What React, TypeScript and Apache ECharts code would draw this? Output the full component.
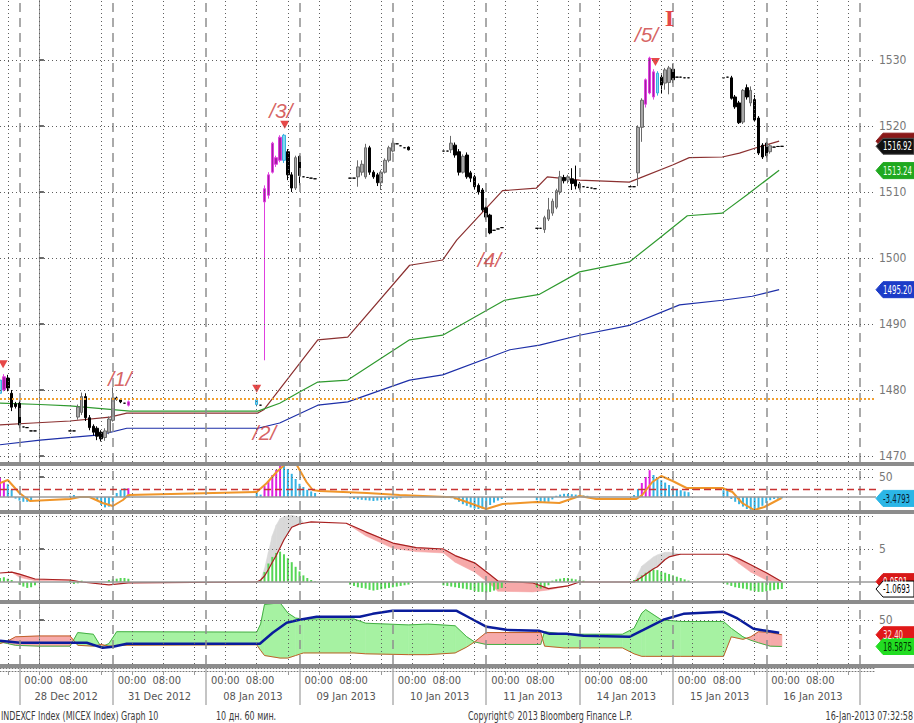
import React, { useEffect, useRef } from 'react';
import * as echarts from 'echarts';

const FONT = "'DejaVu Sans Condensed', 'Liberation Sans Narrow', 'Arial Narrow', sans-serif";

// x = trading hours, 0 = 00:00 of 28 Dec 2012, one 24h block per trading day
const X_MIN = -10;
const X_MAX = 215.2;

const dayNames = ['28 Dec 2012', '31 Dec 2012', '08 Jan 2013', '09 Jan 2013', '10 Jan 2013', '11 Jan 2013', '14 Jan 2013', '15 Jan 2013', '16 Jan 2013'];
const priceTicks = [1470, 1480, 1490, 1500, 1510, 1520, 1530];
const dayBoundaryVals = [-5, 19, 43, 67, 91, 115, 139, 163, 187, 211];
const eightHourVals = [-8, 0, 8, 16, 24, 32, 40, 48, 56, 64, 72, 80, 88, 96, 104, 112, 120, 128, 136, 144, 152, 160, 168, 176, 184, 192, 200, 208];
const timeLabelVals = [4.4, 28.4, 52.4, 76.4, 100.4, 124.4, 148.4, 172.4, 196.4];
const dateLabelVals = [7, 31, 55, 79, 103, 127, 151, 175, 199];

// [hour, open, close, low, high, kind]
const candles27Dec = [
  [-10, 1479.5, 1481.5, 1479.2, 1482.0, 'c'],
  [-9, 1480.0, 1482.0, 1479.8, 1482.4, 'm'],
  [-8, 1481.8, 1480.3, 1479.8, 1482.3, 'd'],
  [-7, 1479.5, 1477.4, 1476.8, 1480.0, 'd'],
  [-6, 1477.9, 1477.5, 1477.2, 1478.2, 'd'],
  [-5, 1478.0, 1474.7, 1474.2, 1478.4, 'd'],
  [-4, 1474.4, 1474.4, 1474.4, 1474.4, 'd'],
  [-3, 1474.3, 1474.3, 1474.3, 1474.3, 'd'],
  [-2, 1473.8, 1473.8, 1473.8, 1473.8, 'd'],
  [-1, 1473.8, 1473.8, 1473.8, 1473.8, 'd'],
];
const candles28Dec = [
  [8, 1473.8, 1473.8, 1473.8, 1473.8, 'd'],
  [9, 1473.8, 1473.8, 1473.8, 1473.8, 'd'],
  [10, 1475.9, 1477.4, 1475.5, 1477.8, 'u'],
  [11, 1476.6, 1479.0, 1476.2, 1479.6, 'u'],
  [12, 1479.0, 1475.8, 1475.3, 1479.5, 'd'],
  [13, 1475.8, 1474.3, 1473.9, 1476.2, 'd'],
  [14, 1474.5, 1473.6, 1473.1, 1474.8, 'd'],
  [15, 1474.2, 1473.0, 1472.4, 1474.5, 'd'],
  [16, 1473.6, 1472.6, 1472.2, 1473.9, 'd'],
  [17, 1472.8, 1473.8, 1472.3, 1474.2, 'u'],
  [18, 1473.6, 1475.6, 1473.3, 1476.0, 'u'],
  [19, 1475.4, 1478.8, 1475.2, 1480.4, 'u'],
  [20, 1478.8, 1478.6, 1478.4, 1479.0, 'd'],
  [21, 1478.5, 1478.2, 1478.0, 1478.6, 'd'],
  [22, 1478.0, 1478.0, 1478.0, 1478.0, 'd'],
  [23, 1477.7, 1478.2, 1477.5, 1478.4, 'm'],
];
const candles08Jan = [
  [56, 1477.8, 1478.5, 1477.5, 1478.8, 'c'],
  [57, 1477.7, 1477.7, 1477.7, 1477.7, 'd'],
  [58, 1508.5, 1510.5, 1484.5, 1511.0, 'm'],
  [59, 1509.5, 1512.6, 1509.0, 1513.0, 'm'],
  [60, 1513.0, 1517.4, 1512.8, 1517.6, 'm'],
  [61, 1514.2, 1515.2, 1513.8, 1515.5, 'm'],
  [62, 1514.8, 1518.3, 1514.5, 1518.6, 'm'],
  [63, 1514.8, 1518.6, 1514.4, 1518.8, 'c'],
  [64, 1516.1, 1512.6, 1511.8, 1516.5, 'd'],
  [65, 1512.6, 1510.6, 1510.0, 1513.0, 'd'],
  [66, 1510.6, 1515.2, 1510.3, 1515.5, 'u'],
  [67, 1515.4, 1512.5, 1511.0, 1515.6, 'd'],
  [68, 1512.3, 1512.3, 1512.3, 1512.3, 'd'],
  [69, 1512.2, 1512.2, 1512.2, 1512.2, 'd'],
  [70, 1512.1, 1512.1, 1512.1, 1512.1, 'd'],
  [71, 1512.0, 1512.0, 1512.0, 1512.0, 'd'],
];
const candles09Jan = [
  [80, 1512.1, 1512.1, 1512.1, 1512.1, 'd'],
  [81, 1512.1, 1512.1, 1512.1, 1512.1, 'd'],
  [82, 1512.3, 1513.8, 1510.8, 1514.8, 'u'],
  [83, 1513.0, 1514.2, 1512.5, 1514.8, 'u'],
  [84, 1512.3, 1516.7, 1512.0, 1517.3, 'u'],
  [85, 1516.7, 1513.0, 1512.6, 1517.0, 'd'],
  [86, 1513.0, 1512.3, 1512.0, 1513.3, 'd'],
  [87, 1512.6, 1511.4, 1510.9, 1512.9, 'd'],
  [88, 1511.4, 1513.0, 1510.3, 1513.3, 'u'],
  [89, 1513.0, 1514.8, 1512.8, 1515.1, 'u'],
  [90, 1514.8, 1516.7, 1514.5, 1517.0, 'u'],
  [91, 1516.2, 1517.4, 1516.0, 1517.8, 'u'],
  [92, 1517.3, 1517.3, 1517.3, 1517.3, 'd'],
  [93, 1517.0, 1517.0, 1517.0, 1517.0, 'd'],
  [94, 1516.7, 1516.7, 1516.7, 1516.7, 'd'],
  [95, 1516.8, 1516.4, 1516.3, 1516.9, 'd'],
];
const candles10Jan = [
  [104, 1516.2, 1516.2, 1516.2, 1516.2, 'd'],
  [105, 1516.2, 1516.2, 1516.2, 1516.2, 'd'],
  [106, 1516.4, 1517.4, 1515.9, 1518.5, 'u'],
  [107, 1517.1, 1515.6, 1515.2, 1517.5, 'd'],
  [108, 1516.1, 1513.0, 1512.5, 1516.5, 'd'],
  [109, 1513.0, 1515.4, 1512.8, 1515.7, 'u'],
  [110, 1515.6, 1512.3, 1512.0, 1516.0, 'd'],
  [111, 1512.9, 1512.1, 1511.5, 1513.2, 'd'],
  [112, 1512.3, 1510.8, 1510.4, 1512.6, 'd'],
  [113, 1511.0, 1510.0, 1509.6, 1511.3, 'd'],
  [114, 1510.3, 1507.3, 1507.0, 1510.6, 'd'],
  [115, 1507.6, 1506.2, 1505.8, 1507.9, 'd'],
  [116, 1506.5, 1503.8, 1503.6, 1506.7, 'd'],
  [117, 1504.2, 1504.2, 1504.2, 1504.2, 'd'],
  [118, 1504.4, 1504.4, 1504.4, 1504.4, 'd'],
  [119, 1504.6, 1504.6, 1504.6, 1504.6, 'd'],
];
const candles11Jan = [
  [128, 1504.5, 1504.5, 1504.5, 1504.5, 'd'],
  [129, 1504.5, 1504.5, 1504.5, 1504.5, 'd'],
  [130, 1504.3, 1506.1, 1503.8, 1506.4, 'u'],
  [131, 1505.9, 1507.3, 1505.6, 1509.1, 'u'],
  [132, 1506.8, 1508.6, 1506.4, 1509.0, 'u'],
  [133, 1507.7, 1510.2, 1507.4, 1510.5, 'u'],
  [134, 1510.0, 1512.3, 1509.6, 1513.2, 'u'],
  [135, 1512.2, 1511.7, 1511.3, 1512.6, 'd'],
  [136, 1511.8, 1512.3, 1511.3, 1512.6, 'u'],
  [137, 1512.0, 1511.3, 1510.3, 1513.6, 'd'],
  [138, 1511.8, 1510.9, 1510.4, 1514.0, 'd'],
  [139, 1511.2, 1510.6, 1510.3, 1511.5, 'd'],
  [140, 1510.8, 1510.8, 1510.8, 1510.8, 'd'],
  [141, 1510.7, 1510.7, 1510.7, 1510.7, 'd'],
  [142, 1510.6, 1510.6, 1510.6, 1510.6, 'd'],
  [143, 1510.5, 1510.5, 1510.5, 1510.5, 'd'],
];
const candles14Jan = [
  [152, 1510.8, 1510.8, 1510.8, 1510.8, 'd'],
  [153, 1510.8, 1510.8, 1510.8, 1510.8, 'd'],
  [154, 1512.9, 1519.8, 1510.9, 1520.1, 'u'],
  [155, 1519.8, 1523.9, 1517.6, 1524.2, 'u'],
  [156, 1523.3, 1527.0, 1522.8, 1527.2, 'm'],
  [157, 1525.0, 1530.3, 1524.8, 1530.5, 'm'],
  [158, 1528.2, 1524.4, 1524.0, 1528.6, 'm'],
  [159, 1525.0, 1528.0, 1524.6, 1528.3, 'c'],
  [160, 1527.4, 1526.2, 1525.0, 1527.8, 'd'],
  [161, 1526.5, 1528.5, 1525.5, 1528.8, 'u'],
  [162, 1526.6, 1528.8, 1524.8, 1529.1, 'u'],
  [163, 1528.6, 1527.0, 1526.5, 1529.4, 'd'],
  [164, 1527.4, 1527.4, 1527.4, 1527.4, 'd'],
  [165, 1527.4, 1527.4, 1527.4, 1527.4, 'd'],
  [166, 1527.3, 1527.3, 1527.3, 1527.3, 'd'],
  [167, 1527.3, 1527.3, 1527.3, 1527.3, 'd'],
];
const candles15Jan = [
  [176, 1527.3, 1527.3, 1527.3, 1527.3, 'd'],
  [177, 1527.4, 1527.4, 1527.4, 1527.4, 'd'],
  [178, 1527.3, 1524.2, 1524.0, 1527.6, 'd'],
  [179, 1524.4, 1522.9, 1522.6, 1524.7, 'd'],
  [180, 1523.5, 1520.5, 1520.3, 1523.8, 'd'],
  [181, 1520.6, 1525.4, 1520.3, 1525.6, 'u'],
  [182, 1525.8, 1524.4, 1524.0, 1526.3, 'd'],
  [183, 1523.5, 1525.4, 1523.0, 1526.0, 'u'],
  [184, 1524.0, 1520.9, 1520.6, 1524.7, 'd'],
  [185, 1521.2, 1515.9, 1515.6, 1521.5, 'd'],
  [186, 1517.1, 1515.3, 1515.0, 1517.4, 'd'],
  [187, 1517.4, 1515.5, 1515.2, 1517.6, 'd'],
  [188, 1516.1, 1517.0, 1515.8, 1517.3, 'u'],
  [189, 1516.8, 1516.8, 1516.8, 1516.8, 'd'],
  [190, 1516.9, 1516.9, 1516.9, 1516.9, 'd'],
  [191, 1516.92, 1516.92, 1516.92, 1516.92, 'd'],
];

// moving averages [hour, price]
const maBrown = [[-10, 1474.7], [-1.5, 1475.0], [8, 1475.3], [18.2, 1475.9], [22.6, 1476.5], [56.3, 1476.5], [57.8, 1477.0], [71.7, 1487.6], [79.4, 1488.0], [95.3, 1498.9], [103.8, 1499.7], [107.4, 1502.7], [119.2, 1510.2], [127.9, 1510.6], [130.7, 1512.3], [139, 1511.8], [151.8, 1511.5], [154.4, 1512.1], [162.9, 1514.1], [167.2, 1515.2], [175.7, 1515.3], [180.1, 1515.9], [184.4, 1516.7], [190.3, 1517.7]];
const maGreen = [[-10, 1478.0], [0.3, 1477.8], [8, 1477.6], [23.4, 1476.8], [56.3, 1476.8], [61.9, 1478.0], [67, 1479.7], [71.7, 1481.2], [79.4, 1481.5], [95.3, 1487.6], [103.8, 1488.3], [119.7, 1493.6], [128.7, 1494.5], [139, 1497.9], [151.8, 1499.4], [159.5, 1503.0], [166.7, 1506.4], [175.7, 1506.8], [181.9, 1509.5], [190.3, 1513.3]];
const maBlue = [[-10, 1471.7], [0.3, 1472.4], [15.7, 1473.2], [22.6, 1474.2], [56.3, 1474.2], [61.9, 1475.0], [71.7, 1477.7], [79.4, 1478.2], [95.3, 1481.5], [103.8, 1482.3], [121.1, 1486.1], [128.7, 1486.8], [139, 1488.3], [151.8, 1489.8], [164.7, 1492.9], [175.7, 1493.6], [183.4, 1494.2], [190.3, 1495.2]];
const orangeLevel = 1478.6;
const markerPoints = [[-9.2, 1483.9], [56, 1480.2], [63.2, 1520.2], [158.5, 1529.7]];
const waveLabels = [[20.8, 1481.8, '/1/'], [58, 1473.6, '/2/'], [62.2, 1522.4, '/3/'], [115.8, 1499.7, '/4/'], [156.2, 1533.8, '/5/']];
const waveDegree = [[162.1, 1536.4, 'I']];

// panel 2: histogram [hour, value, kind] and orange line
const hist2 = [
  [-10, 48, 'm'], [-9, 40, 'm'], [-8, 32, 'c'], [-7, 18, 'c'], [-6, -4, 'c'], [-5, -9, 'c'], [-4, -12, 'c'], [-3, -12, 'c'], [-2, -8, 'c'],
  [8, 3, 'c'], [9, 5, 'c'], [15, -10, 'c'], [16, -20, 'c'], [17, -26, 'c'], [18, -24, 'c'], [19, -12, 'c'], [20, 10, 'c'], [21, 18, 'c'], [22, 22, 'c'], [23, 22, 'm'],
  [56, 12, 'c'], [57, 6, 'c'], [58, 28, 'm'], [59, 40, 'm'], [60, 55, 'm'], [61, 68, 'm'], [62, 78, 'm'], [63, 78, 'c'], [64, 70, 'c'], [65, 58, 'c'], [66, 45, 'c'], [67, 33, 'c'], [68, 25, 'c'], [69, 18, 'c'], [70, 14, 'c'], [71, 10, 'c'],
  [80, -3, 'c'], [81, -5, 'c'], [82, -6, 'c'], [83, -7, 'c'], [84, -8, 'c'], [85, -9, 'c'], [86, -10, 'c'], [87, -9, 'c'], [88, -8, 'c'], [89, -7, 'c'], [90, -6, 'c'], [91, -5, 'c'], [92, -4, 'c'], [93, -3, 'c'],
  [106, -3, 'c'], [107, -6, 'c'], [108, -12, 'c'], [109, -18, 'c'], [110, -22, 'c'], [111, -26, 'c'], [112, -29, 'c'], [113, -30, 'c'], [114, -29, 'c'], [115, -26, 'c'], [116, -20, 'c'], [117, -14, 'c'], [118, -9, 'c'], [119, -5, 'c'],
  [128, -8, 'c'], [129, -12, 'c'], [130, -15, 'c'], [131, -12, 'c'], [132, -6, 'c'], [133, 3, 'c'], [134, 6, 'c'], [135, 8, 'c'], [136, 8, 'c'], [137, 7, 'c'], [138, 6, 'c'], [139, 5, 'c'], [140, 4, 'c'], [141, 3, 'c'],
  [153, 5, 'c'], [154, 20, 'c'], [155, 35, 'm'], [156, 50, 'm'], [157, 67, 'm'], [158, 55, 'c'], [159, 48, 'c'], [160, 42, 'c'], [161, 36, 'c'], [162, 30, 'c'], [163, 25, 'c'], [164, 20, 'c'], [165, 17, 'c'], [166, 14, 'c'], [167, 12, 'c'],
  [176, 17, 'c'], [177, 15, 'c'], [178, -5, 'c'], [179, -12, 'c'], [180, -18, 'c'], [181, -24, 'c'], [182, -30, 'c'], [183, -32, 'c'], [184, -32, 'c'], [185, -28, 'c'], [186, -22, 'c'], [187, -15, 'c'], [188, -8, 'c'], [189, -5, 'c'], [190, -4, 'c'], [191, -3.5, 'c'],
];
const orange2 = [
  [-10, 35], [-8, 42.5], [-5, 10], [-2.3, -10], [8, -5], [10.5, 0], [13, 0], [16.4, -15], [19, -22.5], [21.6, -7.5], [23, 5],
  [56, 12.5], [58.6, 35], [61.1, 62.5], [63.7, 85], [66.3, 80], [68.8, 37.5], [70.4, 17.5], [72.2, 15],
  [84.3, 10], [92.7, 5], [104.8, 0], [106.3, 0], [110.7, -15], [115, -30], [119.2, -17.5], [127.9, -12.5], [133.8, -15], [139, 2.5], [143.3, -5],
  [153.6, -5], [155.1, 5], [157.7, 37.5], [160, 52.5], [162.9, 40], [166.5, 22.5], [175.7, 22.5], [178.3, 12.5], [180.8, -15], [183.9, -32.5], [186.5, -25], [190.9, -2.5],
];

// panel 3: main line, leading line, histogram
const t3 = [-10, -7, -5, -1, 8, 11, 18, 23, 56, 57, 58, 59, 60, 61, 62, 63, 65, 67, 68, 70, 79, 84, 91, 97, 104, 107, 112, 116, 118, 127, 131, 136, 139, 153, 155, 158, 159, 161, 162, 164, 165, 177, 180, 183, 187, 191];
const red3 = [1.36, 1.5, 1.2, 0.45, 0.3, 0.0, -0.45, -0.15, 0.0, 0.3, 0.9, 1.9, 3.0, 4.0, 5.2, 6.4, 8.3, 8.8, 8.9, 9.1, 8.9, 7.6, 5.9, 5.2, 5.0, 4.0, 2.9, 1.1, 0.15, -0.15, -1.0, -0.6, 0.0, 0.0, 0.75, 2.0, 2.3, 3.4, 3.8, 4.1, 4.2, 4.2, 3.5, 2.6, 1.4, 0.05];
const lead3 = [1.36, 1.5, 0.7, 0.2, 0.2, 0.0, -0.45, -0.15, 0.0, 0.3, 2.0, 4.5, 7.0, 8.6, 9.6, 9.9, 10.1, 9.8, 8.9, 9.1, 8.9, 7.0, 5.1, 4.6, 4.4, 3.0, 1.5, -0.3, -1.4, -1.5, -1.2, -0.6, 0.0, 0.0, 2.4, 3.8, 4.1, 4.5, 4.5, 4.3, 4.2, 4.2, 2.8, 1.5, 0.3, 0.05];
const hist3 = [
  [-10, 0.6], [-9, 0.7], [-8, 0.5], [-7, 0.3], [-5, -0.4], [-4, -0.7], [-3, -0.9], [-2, -0.8], [-1, -0.5],
  [8, 0.2], [9, -0.3], [10, -0.2], [11, 0.2], [18, 0.3], [19, 0.4], [20, 0.5], [21, 0.6], [22, 0.6], [23, 0.5],
  [56, 0.1], [57, 0.3], [58, 1.5], [59, 2.8], [60, 3.8], [61, 4.4], [62, 4.6], [63, 4.2], [64, 3.6], [65, 3.0], [66, 2.3], [67, 1.6], [68, 1.0], [69, 0.6], [70, 0.3], [71, 0.1],
  [80, -0.4], [81, -0.6], [82, -0.8], [83, -0.9], [84, -1.0], [85, -1.2], [86, -1.3], [87, -1.2], [88, -1.1], [89, -1.0], [90, -0.9], [91, -0.8], [92, -0.7], [93, -0.6], [94, -0.5], [95, -0.4],
  [104, -0.5], [105, -0.6], [106, -0.7], [107, -0.8], [108, -0.9], [109, -1.0], [110, -1.1], [111, -1.2], [112, -1.4], [113, -1.5], [114, -1.5], [115, -1.6], [116, -1.5], [117, -1.3], [118, -1.1], [119, -0.9],
  [128, -0.8], [129, -1.0], [130, -0.9], [131, -0.5], [132, 0.2], [133, 0.4], [134, 0.5], [135, 0.6], [136, 0.6], [137, 0.5], [138, 0.4], [139, 0.3], [140, 0.2],
  [152, 0.1], [153, 0.3], [154, 0.6], [155, 1.0], [156, 1.4], [157, 1.7], [158, 1.9], [159, 1.8], [160, 1.6], [161, 1.4], [162, 1.2], [163, 1.0], [164, 0.8], [165, 0.6], [166, 0.4], [167, 0.2],
  [176, -0.2], [177, -0.4], [178, -0.6], [179, -0.8], [180, -0.9], [181, -1.0], [182, -1.1], [183, -1.3], [184, -1.4], [185, -1.5], [186, -1.5], [187, -1.4], [188, -1.3], [189, -1.2], [190, -1.1], [191, -1.07],
];

// panel 4: DI+, DI-, ADX
const t4 = [-10, -8, -6, 0, 8, 10, 14, 16, 18, 20, 56, 57, 58, 62, 64, 66, 68, 81, 84, 95, 100, 107, 110, 112, 115, 129, 130, 135, 150, 153, 155, 156, 160, 165, 176, 178, 181, 183, 185, 188, 191];
const diPlus = [24, 22, 20, 19, 19, 35, 33, 18, 22, 36, 35.5, 45, 68, 70, 58, 52, 51, 51, 46, 44, 45, 43, 30, 24, 21, 21, 36, 33, 33, 40, 58, 62, 50, 48, 48, 40, 30, 26, 23, 19, 18.6];
const diMinus = [22, 25, 30, 31, 31, 20, 19, 21, 19, 20, 20.6, 14, 8, 5, 5, 8, 11, 11, 10, 9, 9, 11, 18, 24, 35, 35, 19, 17, 17, 10, 7, 7, 7, 7, 7, 30, 27, 30, 36, 35, 32.4];
const adx = [[-10, 25.3], [-4.9, 23], [12.3, 23], [16.4, 17], [19, 18.2], [22.6, 21.8], [56.8, 21.8], [60.1, 34.7], [63.7, 46.5], [67, 50], [71.4, 53.5], [82.5, 53.5], [85.8, 57], [90.9, 60.6], [107.4, 60.6], [110.7, 52.4], [115.1, 41.8], [120.2, 38.2], [128.7, 37], [131.3, 33.5], [135.6, 33.5], [140, 31.2], [151.8, 30], [155.4, 38.2], [160.5, 50], [165.7, 57], [176, 59.4], [179.3, 52.4], [183.7, 39.4], [187, 37], [190.3, 34.7]];

const tagSpecs = [
  { axis: 0, value: 1517.7, text: '', bg: '#8a1818', fg: '#fff', border: '#8a1818' },
  { axis: 0, value: 1516.92, text: '1516.92', bg: '#111111', fg: '#ffffff', border: '#555' },
  { axis: 0, value: 1513.24, text: '1513.24', bg: '#1fa81f', fg: '#eaffea', border: '#1fa81f' },
  { axis: 0, value: 1495.2, text: '1495.20', bg: '#1c3cc8', fg: '#ffffff', border: '#1c3cc8' },
  { axis: 1, value: -3.4793, text: '-3.4793', bg: '#2bb6e6', fg: '#0a2030', border: '#2bb6e6' },
  { axis: 2, value: 0.05, text: '0.0591', bg: '#d81818', fg: '#ffffff', border: '#d81818' },
  { axis: 2, value: -1.0693, text: '-1.0693', bg: '#ffffff', fg: '#000000', border: '#000000' },
  { axis: 3, value: 32.4, text: '32.40', bg: '#e01818', fg: '#ffe0e0', border: '#e01818' },
  { axis: 3, value: 18.5875, text: '18.5875', bg: '#22dd22', fg: '#003300', border: '#22dd22' },
];

const footerTexts = [
  { x: 1, text: 'INDEXCF Index (MICEX Index) Graph 10', align: 'left' },
  { x: 216, text: '10 дн. 60 мин.', align: 'left' },
  { x: 468, text: 'Copyright© 2013 Bloomberg Finance L.P.', align: 'left' },
  { x: 913, text: '16-Jan-2013 07:32:58', align: 'right' },
];

const candleStyle: any = {
  u: { fill: '#a8a8a8', stroke: '#6a6a6a' },
  d: { fill: '#000000', stroke: '#000000' },
  m: { fill: '#a020a0', stroke: '#e040e0' },
  c: { fill: '#80d8f0', stroke: '#38b0e0' },
};

const DOT = { color: '#5e5e5e', type: [1, 3], width: 1 };
const DASH = { color: '#8e8e8e', type: [9, 6], width: 1.5 };

function vLines() {
  const items: any[] = [];
  eightHourVals.forEach((t) => items.push({ xAxis: t, lineStyle: DOT }));
  dayBoundaryVals.forEach((t) => items.push({ xAxis: t, lineStyle: DASH }));
  return items;
}

function gridLineSeries(i: number, anchorY: number, hLines: any[]) {
  return {
    type: 'line',
    xAxisIndex: i,
    yAxisIndex: i,
    data: [[X_MIN, anchorY]],
    showSymbol: false,
    lineStyle: { opacity: 0 },
    silent: true,
    z: 1,
    markLine: {
      silent: true,
      symbol: ['none', 'none'],
      label: { show: false },
      animation: false,
      data: [...vLines(), ...hLines],
    },
  };
}

// filled band between two read lines; colour depends on which one is on top
function bandSeries(grid: number, ts: number[], a: number[], b: number[], colorAUp: string, colorBUp: string) {
  return {
    type: 'custom',
    xAxisIndex: grid,
    yAxisIndex: grid,
    silent: true,
    clip: true,
    z: 0,
    data: ts.slice(0, -1).map((t, i) => [t, a[i]]),
    encode: { x: 0, y: 1 },
    renderItem: (params: any, api: any) => {
      const i = params.dataIndex;
      const t0 = ts[i], t1 = ts[i + 1];
      const d0 = a[i] - b[i], d1 = a[i + 1] - b[i + 1];
      const children: any[] = [];
      const poly = (pts: number[][], up: boolean) => {
        const col = up ? colorAUp : colorBUp;
        children.push({
          type: 'polygon',
          shape: { points: pts.map((p) => api.coord(p)) },
          style: { fill: col, stroke: col, lineWidth: 0.6 },
        });
      };
      if (d0 * d1 >= 0) {
        if (d0 === 0 && d1 === 0) return { type: 'group', children };
        poly([[t0, a[i]], [t1, a[i + 1]], [t1, b[i + 1]], [t0, b[i]]], d0 + d1 > 0);
      } else {
        const f = d0 / (d0 - d1);
        const tc = t0 + f * (t1 - t0);
        const vc = a[i] + f * (a[i + 1] - a[i]);
        poly([[t0, a[i]], [tc, vc], [t0, b[i]]], d0 > 0);
        poly([[tc, vc], [t1, a[i + 1]], [t1, b[i + 1]]], d1 > 0);
      }
      return { type: 'group', children };
    },
  };
}

function buildOption() {
  const allCandles = [...candles27Dec, ...candles28Dec, ...candles08Jan, ...candles09Jan, ...candles10Jan, ...candles11Jan, ...candles14Jan, ...candles15Jan];
  const candleItems = allCandles.map((c: any) => {
    const k = candleStyle[c[5]];
    return {
      value: [c[0], c[1], c[2], c[3], c[4]],
      itemStyle: { color: k.fill, color0: k.fill, borderColor: k.stroke, borderColor0: k.stroke, borderColorDoji: k.stroke, borderWidth: 1 },
    };
  });

  const yCommon = (grid: number, min: number, max: number, vals: number[]) => ({
    type: 'value',
    gridIndex: grid,
    position: 'right',
    min,
    max,
    splitLine: { show: false },
    axisLine: { show: true, lineStyle: { color: '#9a9a9a', width: 1 } },
    axisTick: { show: true, inside: false, length: 5, customValues: vals, lineStyle: { color: '#6a6a6a', width: 2 } },
    axisLabel: { show: true, customValues: vals, color: '#777', fontFamily: FONT, fontSize: 12, margin: 3, formatter: (v: number) => String(v) },
  });
  const xHidden = (grid: number) => ({ type: 'value', gridIndex: grid, min: X_MIN, max: X_MAX, show: false });

  return {
    animation: false,
    backgroundColor: '#ffffff',
    grid: [
      { left: 0, width: 876, top: 0, height: 462 },
      { left: 0, width: 876, top: 466, height: 44 },
      { left: 0, width: 876, top: 514, height: 86 },
      { left: 0, width: 876, top: 604, height: 60 },
      { left: 0, width: 876, top: 667, height: 1 },
    ],
    xAxis: [
      xHidden(0), xHidden(1), xHidden(2), xHidden(3),
      {
        type: 'value', gridIndex: 4, min: X_MIN, max: X_MAX, position: 'bottom', offset: 0,
        splitLine: { show: false },
        axisLine: { show: true, lineStyle: { color: '#777', type: [1, 2] } },
        axisTick: { show: true, length: 37, customValues: dayBoundaryVals, lineStyle: { color: '#b0b0b0', width: 1.5 } },
        axisLabel: { show: true, hideOverlap: false, customValues: timeLabelVals, margin: 7, color: '#555', fontFamily: FONT, fontSize: 11, formatter: () => '00:00  08:00' },
      },
      {
        type: 'value', gridIndex: 4, min: X_MIN, max: X_MAX, position: 'bottom', offset: 16,
        splitLine: { show: false }, axisLine: { show: false }, axisTick: { show: false },
        axisLabel: { show: true, hideOverlap: false, customValues: dateLabelVals, margin: 7, color: '#555', fontFamily: FONT, fontSize: 11, formatter: (v: number) => dayNames[Math.round((v - 7) / 24)] || '' },
      },
      {
        type: 'value', gridIndex: 4, min: X_MIN, max: X_MAX, position: 'bottom', offset: 3,
        splitLine: { show: false },
        axisLine: { show: true, lineStyle: { color: '#777', type: [1, 2] } },
        axisTick: { show: true, length: 4, customValues: eightHourVals, lineStyle: { color: '#999' } },
        axisLabel: { show: false },
      },
    ],
    yAxis: [
      yCommon(0, 1469.09, 1539.09, priceTicks),
      yCommon(1, -32.5, 77.5, [50]),
      yCommon(2, -2.73, 10.3, [5]),
      yCommon(3, -2, 68.6, [50]),
      { type: 'value', gridIndex: 4, min: 0, max: 1, show: false },
    ],
    series: [
      gridLineSeries(0, 1500, [
        ...priceTicks.map((p) => ({ yAxis: p, lineStyle: DOT })),
        { yAxis: orangeLevel, lineStyle: { color: '#f2a030', type: [2, 2], width: 2 } },
      ]),
      gridLineSeries(1, 0, [
        { yAxis: 70, lineStyle: DOT },
        { yAxis: 50, lineStyle: DOT },
        { yAxis: 20, lineStyle: { color: '#c83232', type: [7, 4], width: 1.3 } },
        { yAxis: 0, lineStyle: { color: '#9a9a9a', type: 'solid', width: 1.5 } },
      ]),
      gridLineSeries(2, 0, [
        { yAxis: 10, lineStyle: DOT },
        { yAxis: 5, lineStyle: DOT },
        { yAxis: 0, lineStyle: { color: '#9a9a9a', type: 'solid', width: 1.5 } },
      ]),
      gridLineSeries(3, 20, [
        { yAxis: 50, lineStyle: DOT },
      ]),
      // main panel
      { type: 'line', xAxisIndex: 0, yAxisIndex: 0, data: maBrown, showSymbol: false, silent: true, lineStyle: { color: '#8b3030', width: 1.2 }, z: 2 },
      { type: 'line', xAxisIndex: 0, yAxisIndex: 0, data: maGreen, showSymbol: false, silent: true, lineStyle: { color: '#2f9a2f', width: 1.2 }, z: 2 },
      { type: 'line', xAxisIndex: 0, yAxisIndex: 0, data: maBlue, showSymbol: false, silent: true, lineStyle: { color: '#1d2fa8', width: 1.2 }, z: 2 },
      {
        type: 'candlestick', xAxisIndex: 0, yAxisIndex: 0, data: candleItems,
        encode: { x: 0, y: [1, 2, 3, 4] }, barWidth: 3, silent: true, z: 3,
      },
      {
        type: 'scatter', xAxisIndex: 0, yAxisIndex: 0, data: markerPoints, symbol: 'triangle', symbolRotate: 180,
        symbolSize: [9, 8], itemStyle: { color: '#e01b1b' }, silent: true, z: 4,
      },
      {
        type: 'scatter', xAxisIndex: 0, yAxisIndex: 0, silent: true, z: 5,
        data: waveLabels.map((a: any) => ({ value: [a[0], a[1]], name: a[2] })),
        symbolSize: 1, itemStyle: { color: 'rgba(0,0,0,0)' },
        label: { show: true, position: 'inside', formatter: '{b}', color: '#cc3a3a', fontSize: 21, fontStyle: 'italic', fontFamily: "'Liberation Sans', 'DejaVu Sans', sans-serif" },
      },
      {
        type: 'scatter', xAxisIndex: 0, yAxisIndex: 0, silent: true, z: 5,
        data: waveDegree.map((a: any) => ({ value: [a[0], a[1]], name: a[2] })),
        symbolSize: 1, itemStyle: { color: 'rgba(0,0,0,0)' },
        label: { show: true, position: 'inside', formatter: '{b}', color: '#dd1414', fontSize: 24, fontWeight: 'bold', fontFamily: "'Liberation Serif', 'DejaVu Serif', serif" },
      },
      // panel 2
      {
        type: 'bar', xAxisIndex: 1, yAxisIndex: 1, barWidth: 2, silent: true, z: 2,
        data: hist2.map((h: any) => ({ value: [h[0], h[1]], itemStyle: { color: h[2] === 'm' ? '#e020e0' : '#36b4e4' } })),
      },
      { type: 'line', xAxisIndex: 1, yAxisIndex: 1, data: orange2, showSymbol: false, silent: true, lineStyle: { color: '#f0962a', width: 2 }, z: 3 },
      // panel 3
      bandSeries(2, t3, lead3, red3, '#d9d9d9', '#f6a9a9'),
      {
        type: 'bar', xAxisIndex: 2, yAxisIndex: 2, barWidth: 2, silent: true, z: 2,
        data: hist3, itemStyle: { color: '#55d655' },
      },
      { type: 'line', xAxisIndex: 2, yAxisIndex: 2, data: t3.map((t, i) => [t, red3[i]]), showSymbol: false, silent: true, lineStyle: { color: '#a82020', width: 1.2 }, z: 3 },
      // panel 4
      bandSeries(3, t4, diPlus, diMinus, '#a6f2a2', '#f6aaaa'),
      { type: 'line', xAxisIndex: 3, yAxisIndex: 3, data: t4.map((t, i) => [t, diPlus[i]]), showSymbol: false, silent: true, lineStyle: { color: '#45b045', width: 1 }, z: 2 },
      { type: 'line', xAxisIndex: 3, yAxisIndex: 3, data: t4.map((t, i) => [t, diMinus[i]]), showSymbol: false, silent: true, lineStyle: { color: '#c0602a', width: 1 }, z: 2 },
      { type: 'line', xAxisIndex: 3, yAxisIndex: 3, data: adx, showSymbol: false, silent: true, lineStyle: { color: '#0a1c9c', width: 2.5 }, z: 3 },
    ],
  };
}

export default function App() {
  const ref = useRef<HTMLDivElement>(null);
  useEffect(() => {
    if (!ref.current) return;
    const chart = echarts.init(ref.current, null, { renderer: 'svg' });
    chart.setOption(buildOption() as any);
    const graphics: any[] = [];
    [462, 510, 600, 664].forEach((y) => {
      graphics.push({ type: 'rect', shape: { x: 0, y, width: 914, height: 4 }, style: { fill: '#8c8c8c' }, z: 100, silent: true });
    });
    tagSpecs.forEach((s) => {
      const y = chart.convertToPixel({ yAxisIndex: s.axis } as any, s.value) as unknown as number;
      graphics.push({
        type: 'polygon', z: 200, silent: true,
        shape: { points: [[876, y], [883, y - 8], [914, y - 8], [914, y + 8], [883, y + 8]] },
        style: { fill: s.bg, stroke: s.border, lineWidth: 1 },
      });
      if (s.text) {
        graphics.push({
          type: 'text', z: 201, silent: true, x: 883, y, scaleX: 0.65,
          style: { text: s.text, fill: s.fg, font: `12px ${FONT}`, align: 'left', verticalAlign: 'middle' },
        });
      }
    });
    footerTexts.forEach((f) => {
      graphics.push({
        type: 'text', z: 201, silent: true, x: f.x, y: 715, scaleX: 0.74,
        style: { text: f.text, fill: '#3a3a3a', font: `12px ${FONT}`, align: f.align, verticalAlign: 'middle' },
      });
    });
    chart.setOption({ graphic: graphics });
    return () => chart.dispose();
  }, []);
  return <div ref={ref} style={{ position: 'fixed', left: 0, top: 0, width: 914, height: 723, background: '#fff' }} />;
}
